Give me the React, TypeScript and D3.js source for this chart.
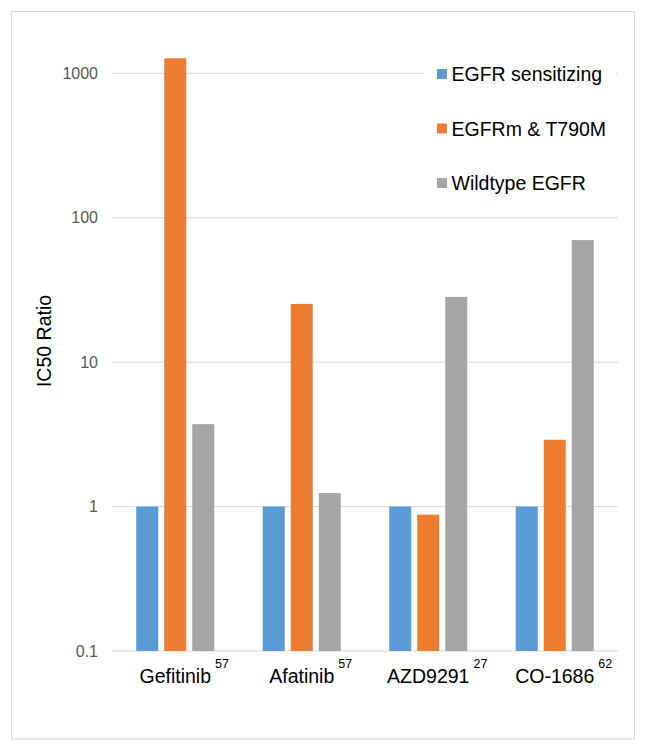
import * as d3 from "d3";

const drugs = ["Gefitinib", "Afatinib", "AZD9291", "CO-1686"];
const refs = ["57", "57", "27", "62"];
const seriesNames = ["EGFR sensitizing", "EGFRm & T790M", "Wildtype EGFR"];
const seriesColors = ["#5B9BD5", "#ED7D31", "#A5A5A5"];
const sensitizing = [1, 1, 1, 1];
const t790m = [1270, 25.3, 0.88, 2.9];
const wildtype = [3.72, 1.24, 28.3, 70];
const yTicks = [0.1, 1, 10, 100, 1000];

const seriesValues = [sensitizing, t790m, wildtype];
const font = "'Liberation Sans', Arial, sans-serif";

let ctx: CanvasRenderingContext2D | null = null;
function textWidth(text: string, size: number) {
  if (!ctx) ctx = document.createElement("canvas").getContext("2d");
  if (!ctx) return text.length * size * 0.55;
  ctx.font = `${size}px ${font}`;
  return ctx.measureText(text).width;
}

export default function App() {
  const width = 649;
  const height = 753;
  const plot = { left: 112, right: 618, top: 73.3, bottom: 651 };
  const labelSize = 19.5;

  const x0 = d3
    .scaleBand()
    .domain(drugs)
    .range([plot.left, plot.right])
    .paddingInner(0.383)
    .paddingOuter(0.383 / 2);
  const x1 = d3
    .scaleBand()
    .domain(seriesNames)
    .range([0, x0.bandwidth()])
    .paddingInner(0.214)
    .paddingOuter(0);
  const y = d3.scaleLog().domain([0.1, 1000]).range([plot.bottom, plot.top]);

  return (
    <svg
      width={width}
      height={height}
      viewBox={`0 0 ${width} ${height}`}
      style={{ position: "absolute", left: 0, top: 0, fontFamily: font }}
    >
      <rect x={0} y={0} width={width} height={height} fill="#fff" />
      <rect x={11.5} y={11.5} width={623} height={727.5} fill="#fff" stroke="#D9D9D9" />
      {yTicks.map((tick) => (
        <g key={tick}>
          <line x1={plot.left} x2={plot.right} y1={y(tick)} y2={y(tick)} stroke="#D9D9D9" strokeWidth={1} />
          <text x={98} y={y(tick) + 5.5} textAnchor="end" fontSize={16} fill="#595959">
            {tick}
          </text>
        </g>
      ))}
      {drugs.map((drug, i) => {
        const gx = x0(drug) ?? 0;
        return (
          <g key={drug}>
            {seriesNames.map((name, s) => {
              const v = seriesValues[s][i];
              return (
                <rect
                  key={name}
                  x={gx + (x1(name) ?? 0)}
                  y={y(v)}
                  width={x1.bandwidth()}
                  height={plot.bottom - y(v)}
                  fill={seriesColors[s]}
                />
              );
            })}
          </g>
        );
      })}
      {drugs.map((drug, i) => {
        const cx = (x0(drug) ?? 0) + x0.bandwidth() / 2;
        const half = textWidth(drug, labelSize) / 2;
        return (
          <g key={drug}>
            <text x={cx} y={683} textAnchor="middle" fontSize={labelSize} fill="#000">
              {drug}
            </text>
            <text x={cx + half + 4} y={668} fontSize={12.5} fill="#000">
              {refs[i]}
            </text>
          </g>
        );
      })}
      <text transform={`translate(51, 341) rotate(-90)`} textAnchor="middle" fontSize={labelSize} fill="#000">
        IC50 Ratio
      </text>
      <rect x={424} y={48} width={192} height={152} fill="#fff" />
      {seriesNames.map((name, s) => (
        <g key={name} transform={`translate(437, ${74 + s * 54.5})`}>
          <rect x={0} y={-5} width={10} height={10} fill={seriesColors[s]} />
          <text x={14.5} y={7} fontSize={labelSize} fill="#000">
            {name}
          </text>
        </g>
      ))}
    </svg>
  );
}
